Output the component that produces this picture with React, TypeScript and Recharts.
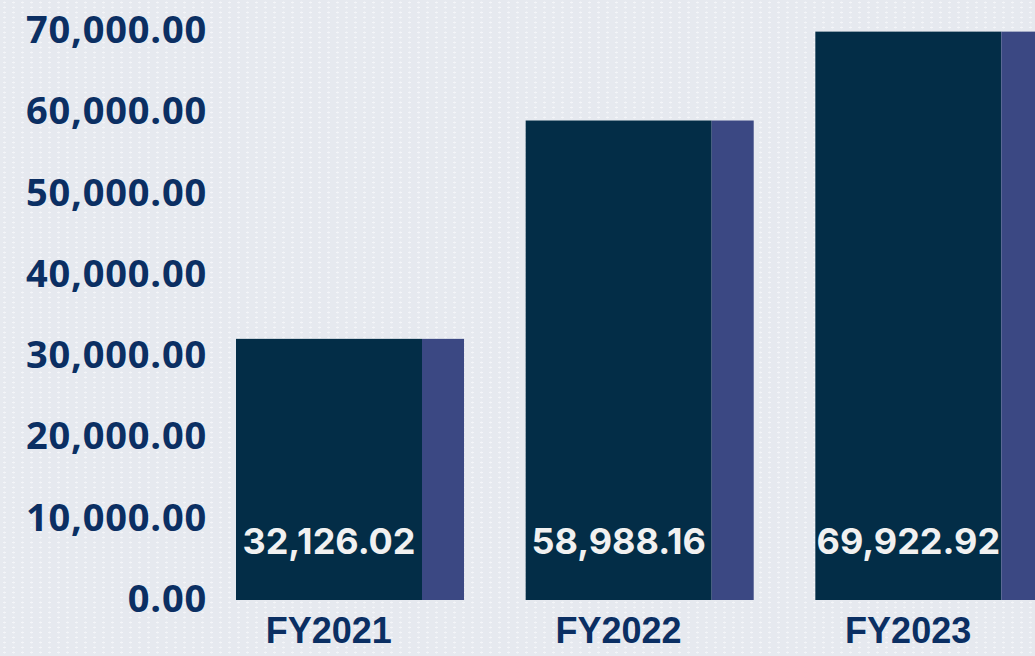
import { BarChart, Bar, XAxis, YAxis, LabelList } from 'recharts';

const years = ['FY2021', 'FY2022', 'FY2023'];
const amounts = [32126.02, 58988.16, 69922.92];
const yTicks = [0, 10000, 20000, 30000, 40000, 50000, 60000, 70000];

const NAVY = '#032d47';
const STRIP = '#3b4883';
const TEXT_NAVY = '#0b2f63';

const fmt = (v: number) =>
  v.toLocaleString('en-US', { minimumFractionDigits: 2, maximumFractionDigits: 2 });

const chartData = years.map((year, i) => ({ year, amount: amounts[i] }));

// dark bar with a purple strip on its right side
const StripBar = (props: any) => {
  const { x, y, width, height } = props;
  if (height <= 0) return null;
  const strip = width * 0.226;
  return (
    <g>
      <rect x={x} y={y} width={width} height={height} fill={NAVY} />
      <rect x={x + width} y={y} width={strip} height={height} fill={STRIP} />
    </g>
  );
};

const YTick = ({ x, y, payload }: any) => (
  <text
    x={x + 31}
    y={y - 3}
    textAnchor="end"
    dominantBaseline="central"
    fill={TEXT_NAVY}
    style={{ fontFamily: '"Open Sans", sans-serif', fontWeight: 700, fontSize: 38, letterSpacing: 0.8 }}
  >
    {fmt(payload.value)}
  </text>
);

const XTick = ({ x, y, payload }: any) => (
  <text
    x={x}
    y={y + 22}
    textAnchor="middle"
    dominantBaseline="central"
    fill={TEXT_NAVY}
    style={{ fontFamily: '"Liberation Sans", Arial, sans-serif', fontWeight: 700, fontSize: 36 }}
  >
    {payload.value}
  </text>
);

const ValueLabel = ({ x, y, width, height, value }: any) => (
  <text
    x={x + width / 2}
    y={y + height - 59}
    textAnchor="middle"
    dominantBaseline="central"
    fill="#f1f1f1"
    style={{ fontFamily: 'Inter, sans-serif', fontWeight: 700, fontSize: 36 }}
  >
    {fmt(value)}
  </text>
);

export default function App() {
  return (
    <div
      style={{
        position: 'absolute',
        left: 0,
        top: 0,
        width: 1035,
        height: 656,
        overflow: 'hidden',
        background:
          'radial-gradient(rgba(255,255,255,0.55) 1.5px, transparent 2px) 0 0 / 9px 5px, #e6e9ef',
      }}
    >
      <BarChart
        width={1053}
        height={656}
        data={chartData}
        margin={{ top: 31, right: 0, bottom: 0, left: 0 }}
        barCategoryGap={52}
      >
        <XAxis
          dataKey="year"
          axisLine={false}
          tickLine={false}
          height={56}
          tick={<XTick />}
          interval={0}
        />
        <YAxis
          width={184}
          domain={[0, 70000]}
          ticks={yTicks}
          axisLine={false}
          tickLine={false}
          tick={<YTick />}
          interval={0}
        />
        <Bar dataKey="amount" barSize={186} shape={<StripBar />} isAnimationActive={false}>
          <LabelList dataKey="amount" content={<ValueLabel />} />
        </Bar>
      </BarChart>
    </div>
  );
}
